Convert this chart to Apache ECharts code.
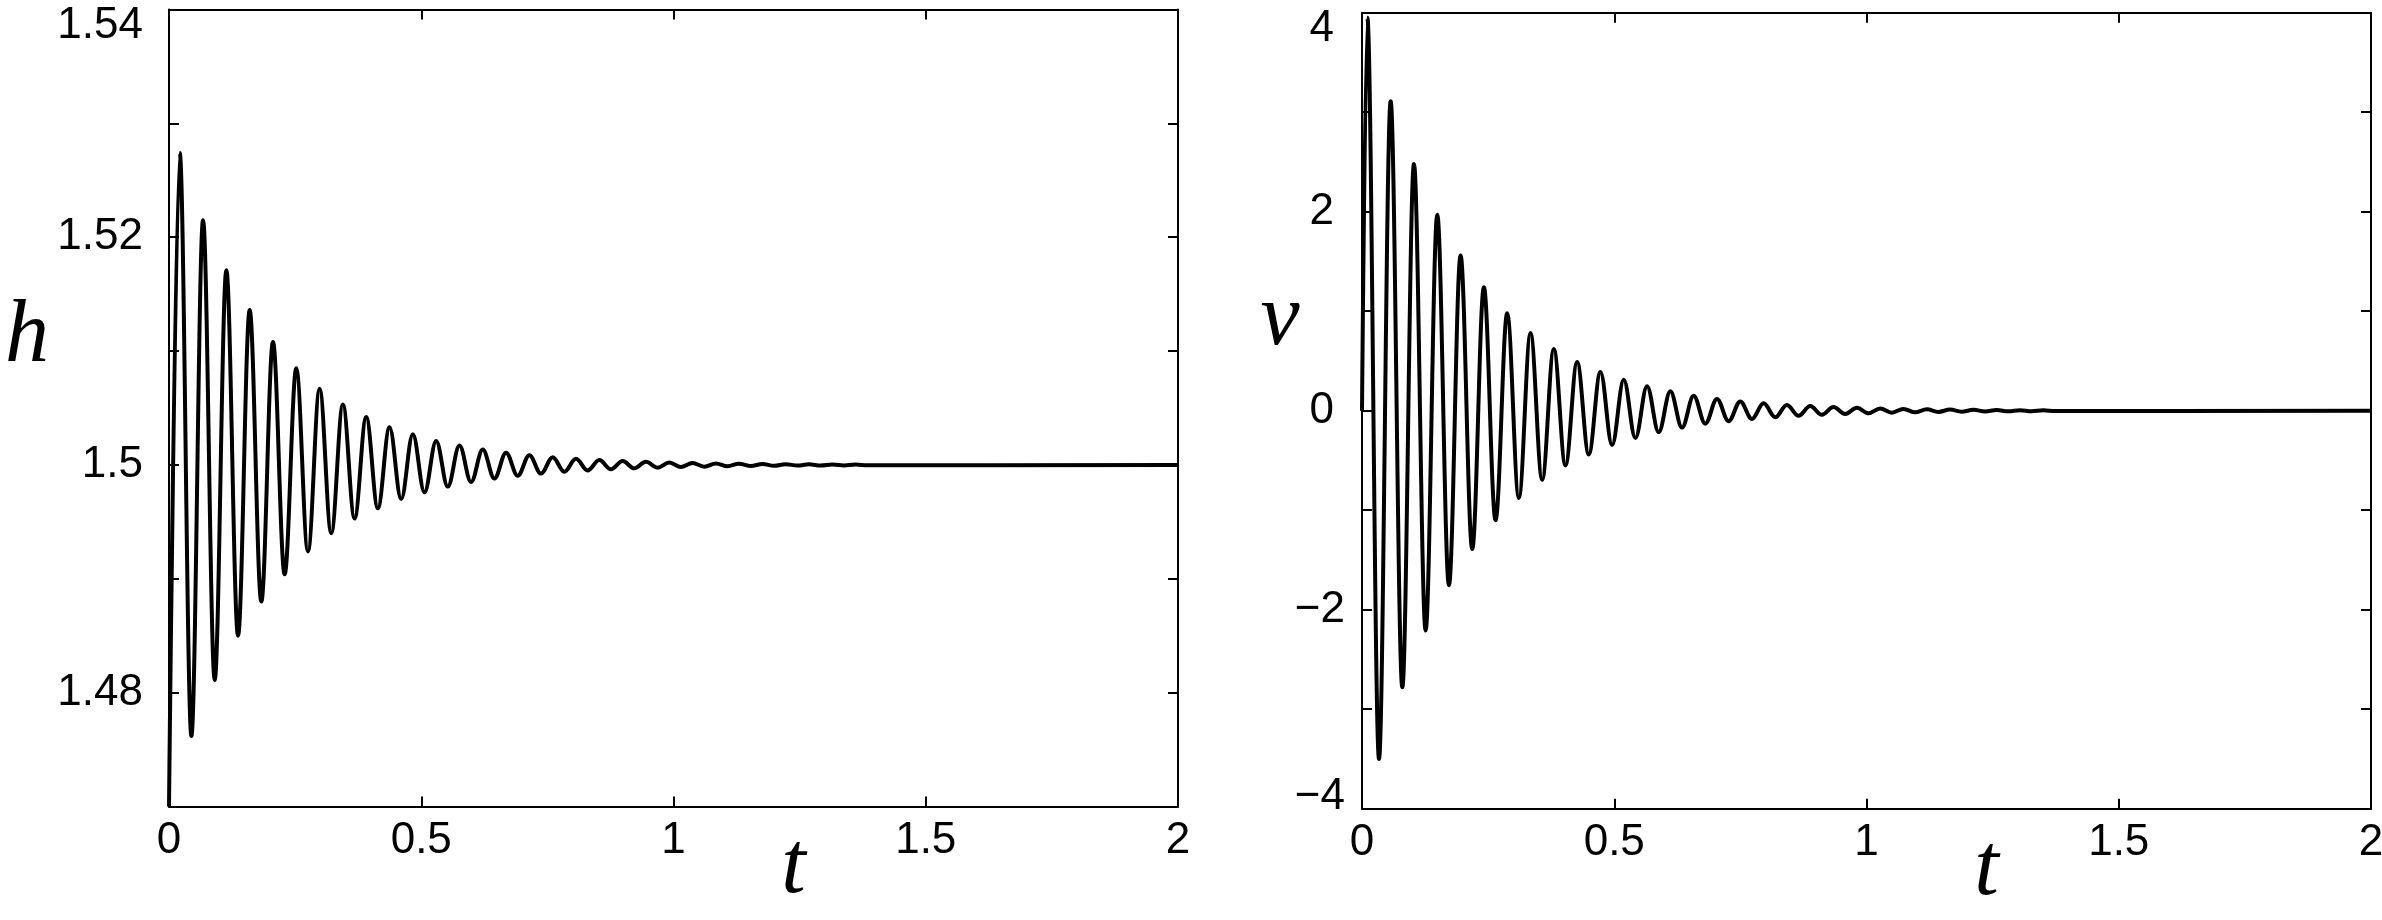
<!DOCTYPE html>
<html><head><meta charset="utf-8">
<script src="https://cdn.jsdelivr.net/npm/echarts@6/dist/echarts.min.js"></script>
<style>html,body{margin:0;padding:0;background:#fff}#c{width:2382px;height:920px}</style>
</head><body><div id="c"></div>
<script>
// ---- data (extrema of the oscillations) ----
const hTimes = [0, 0.0213, 0.0444, 0.0675, 0.0906, 0.1137, 0.1368, 0.1599, 0.1830, 0.2061,
  0.2292, 0.2523, 0.2754, 0.2985, 0.3216, 0.3447, 0.3678, 0.3909, 0.4140, 0.4371,
  0.4602, 0.4833, 0.5064, 0.5295, 0.5526, 0.5757, 0.5988, 0.6219, 0.6450, 0.6681,
  0.6912, 0.7143, 0.7374, 0.7605, 0.7836, 0.8067, 0.8298, 0.8529, 0.8760, 0.8991,
  0.9222, 0.9453, 0.9684, 0.9915, 1.0146, 1.0377, 1.0608, 1.0839, 1.1070, 1.1301,
  1.1532, 1.1763, 1.1994, 1.2225, 1.2456, 1.2687, 1.2918, 1.3149, 1.3380, 1.3611, 1.3842, 2.0];
const hValues = [1.4700, 1.5274, 1.4762, 1.5215, 1.4811, 1.5171, 1.4850, 1.5136, 1.4880, 1.5108,
  1.4904, 1.5085, 1.4924, 1.5067, 1.4940, 1.5053, 1.4953, 1.5042, 1.4962, 1.5033,
  1.4970, 1.5027, 1.4976, 1.5021, 1.4981, 1.5017, 1.4985, 1.50135, 1.4988, 1.50107,
  1.49905, 1.50085, 1.49924, 1.50068, 1.4994, 1.50054, 1.49952, 1.50043, 1.49962, 1.50034,
  1.4997, 1.50027, 1.49976, 1.50021, 1.49981, 1.50017, 1.49985, 1.50013, 1.49988, 1.50011,
  1.4999, 1.50009, 1.49992, 1.50007, 1.49994, 1.50005, 1.49995, 1.50004, 1.49996, 1.50003, 1.49997, 1.5];
const vTimes = [0, 0.0106, 0.0337, 0.0568, 0.0799, 0.1030, 0.1261, 0.1492, 0.1723, 0.1954,
  0.2185, 0.2416, 0.2647, 0.2878, 0.3109, 0.3340, 0.3571, 0.3802, 0.4033, 0.4264,
  0.4495, 0.4726, 0.4957, 0.5188, 0.5419, 0.5650, 0.5881, 0.6112, 0.6343, 0.6574,
  0.6805, 0.7036, 0.7267, 0.7498, 0.7729, 0.7960, 0.8191, 0.8422, 0.8653, 0.8884,
  0.9115, 0.9346, 0.9577, 0.9808, 1.0039, 1.0270, 1.0501, 1.0732, 1.0963, 1.1194,
  1.1425, 1.1656, 1.1887, 1.2118, 1.2349, 1.2580, 1.2811, 1.3042, 1.3273, 1.3504, 1.3735, 2.0];
const vValues = [0, 3.95, -3.50, 3.11, -2.78, 2.48, -2.21, 1.97, -1.755, 1.56,
  -1.39, 1.24, -1.10, 0.98, -0.877, 0.78, -0.695, 0.62, -0.55, 0.49,
  -0.44, 0.39, -0.345, 0.31, -0.275, 0.245, -0.215, 0.195, -0.17, 0.15,
  -0.13, 0.118, -0.105, 0.093, -0.083, 0.074, -0.066, 0.058, -0.052, 0.046,
  -0.041, 0.037, -0.033, 0.029, -0.026, 0.023, -0.0205, 0.018, -0.016, 0.0145,
  -0.013, 0.0115, -0.0102, 0.0091, -0.0081, 0.0072, -0.0064, 0.0057, -0.0051, 0.0045, -0.004, 0];

const tTickLabels = ['0', '0.5', '1', '1.5', '2'];
const hTickLabels = ['1.48', '1.5', '1.52', '1.54'];
const vTickLabels = ['\u22124', '\u22122', '0', '2', '4'];

// ---- styling ----
const LABEL_FONT = "'Liberation Sans', Arial, sans-serif";
const NAME_FONT = "'Liberation Serif', 'Times New Roman', serif";
const LABEL_SIZE = 44;
const num = s => parseFloat(s.replace('\u2212', '-'));
const findLab = (arr, v) => arr.find(s => Math.abs(num(s) - v) < 1e-6);

function xAxes(gridIndex) {
  const base = {
    gridIndex, type: 'value', min: 0, max: 2, interval: 0.5,
    axisLine: {show: true, onZero: false, lineStyle: {color: '#000', width: 2}},
    axisTick: {show: true, inside: true, length: 10, lineStyle: {color: '#000', width: 2}},
    splitLine: {show: false}
  };
  return [
    Object.assign({}, base, {
      position: 'bottom',
      axisLabel: {show: true, color: '#000', fontSize: LABEL_SIZE, fontFamily: LABEL_FONT, margin: 12,
        showMinLabel: true, showMaxLabel: true, hideOverlap: false,
        formatter: v => findLab(tTickLabels, v) || ''},
      name: 't', nameLocation: 'middle', nameGap: 18, nameMoveOverlap: false,
      nameTextStyle: {fontFamily: NAME_FONT, fontStyle: 'italic', fontSize: 88, color: '#000',
        align: 'center', verticalAlign: 'top', padding: [0, 0, 0, 240]}
    }),
    Object.assign({}, base, {position: 'top', axisLabel: {show: false}})
  ];
}

const hAxisBase = {
  type: 'value', min: 1.47, max: 1.54, interval: 0.01,
  axisLine: {show: true, onZero: false, lineStyle: {color: '#000', width: 2}},
  axisTick: {show: true, inside: true, length: 10, lineStyle: {color: '#000', width: 2}},
  splitLine: {show: false}
};
const vAxisBase = {
  type: 'value', min: -4, max: 4, interval: 1,
  axisLine: {show: true, onZero: false, lineStyle: {color: '#000', width: 2}},
  axisTick: {show: true, inside: true, length: 10, lineStyle: {color: '#000', width: 2}},
  splitLine: {show: false}
};
const richBase = {fontSize: LABEL_SIZE, fontFamily: LABEL_FONT, color: '#000'};

const option = {
  backgroundColor: '#fff',
  animation: false,
  grid: [
    {left: 169, top: 9.5, width: 1009, height: 797, containLabel: false, outerBoundsMode: 'none'},
    {left: 1362, top: 12.7, width: 1009, height: 796, containLabel: false, outerBoundsMode: 'none'}
  ],
  graphic: [
    {type: 'text', x: 27, y: 338, silent: true,
      style: {text: 'h', font: "italic 88px " + NAME_FONT, fill: '#000', align: 'center', verticalAlign: 'middle'}},
    {type: 'text', x: 1280, y: 321, silent: true,
      style: {text: 'v', font: "italic 88px " + NAME_FONT, fill: '#000', align: 'center', verticalAlign: 'middle'}}
  ],
  xAxis: [...xAxes(0), ...xAxes(1)],
  yAxis: [
    Object.assign({}, hAxisBase, {
      gridIndex: 0, position: 'left',
      axisLabel: {show: true, color: '#000', fontSize: LABEL_SIZE, fontFamily: LABEL_FONT, margin: 26,
        showMinLabel: true, showMaxLabel: true, hideOverlap: false,
        formatter: v => {
          const lab = findLab(hTickLabels, v);
          if (!lab) return '';
          return Math.abs(v - 1.54) < 1e-6 ? '{hi|' + lab + '}' : lab;
        },
        rich: {hi: Object.assign({}, richBase, {padding: [33, 0, 0, 0]})}
      }
    }),
    Object.assign({}, hAxisBase, {gridIndex: 0, position: 'right', axisLabel: {show: false}}),
    Object.assign({}, vAxisBase, {
      gridIndex: 1, position: 'left',
      axisLabel: {show: true, color: '#000', fontSize: LABEL_SIZE, fontFamily: LABEL_FONT, margin: 17,
        showMinLabel: true, showMaxLabel: true, hideOverlap: false,
        formatter: v => {
          const lab = findLab(vTickLabels, v);
          if (!lab) return '';
          if (Math.abs(v - 4) < 1e-6) return '{hi|' + lab + '}';
          if (Math.abs(v + 4) < 1e-6) return '{lo|' + lab + '}';
          return v >= 0 ? '{pos|' + lab + '}' : lab;
        },
        rich: {
          hi: Object.assign({}, richBase, {padding: [32, 11, 0, 0]}),
          lo: Object.assign({}, richBase, {padding: [0, 0, 24, 0]}),
          pos: Object.assign({}, richBase, {padding: [0, 11, 0, 0]})
        }
      }
    }),
    Object.assign({}, vAxisBase, {gridIndex: 1, position: 'right', axisLabel: {show: false}})
  ],
  series: [
    {type: 'line', xAxisIndex: 0, yAxisIndex: 0, showSymbol: false, symbol: 'none',
      smooth: 0.36, smoothMonotone: 'x',
      lineStyle: {color: '#000', width: 4}, data: hTimes.map((t, i) => [t, hValues[i]])},
    {type: 'line', xAxisIndex: 2, yAxisIndex: 2, showSymbol: false, symbol: 'none',
      smooth: 0.36, smoothMonotone: 'x',
      lineStyle: {color: '#000', width: 4}, data: vTimes.map((t, i) => [t, vValues[i]])}
  ]
};
const chart = echarts.init(document.getElementById('c'), null, {renderer: 'canvas'});
chart.setOption(option);
</script></body></html>
